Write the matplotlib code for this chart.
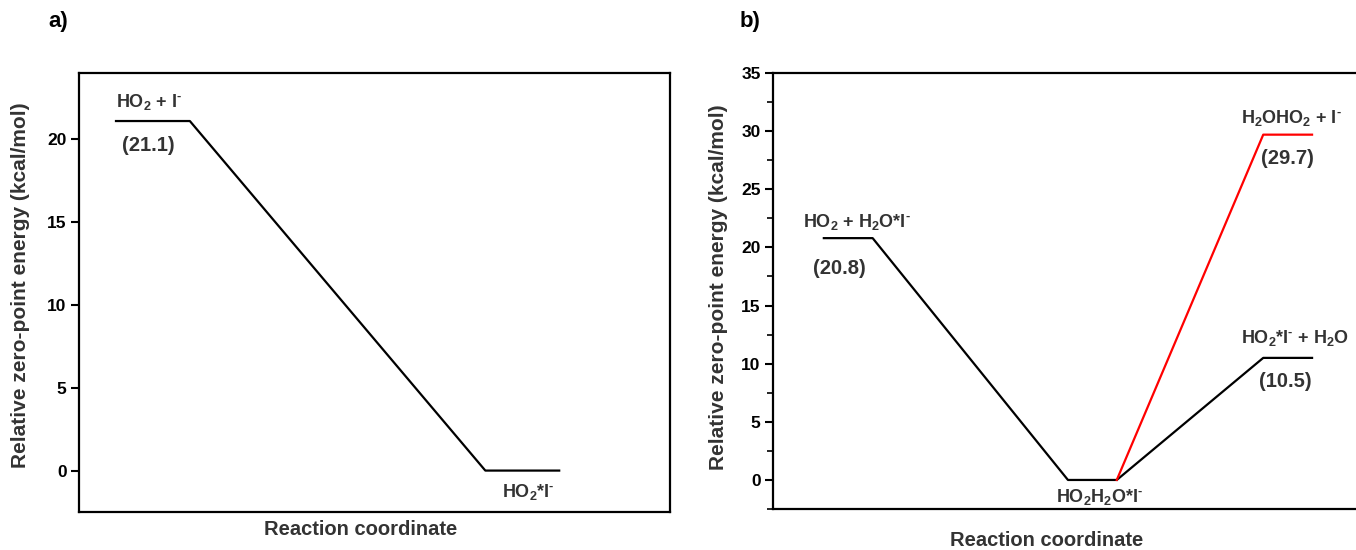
import matplotlib
matplotlib.use("Agg")
import matplotlib.pyplot as plt
from matplotlib.ticker import MultipleLocator

plt.rcParams['font.family'] = ['Liberation Sans', 'DejaVu Sans']
plt.rcParams['font.weight'] = 'bold'
plt.rcParams['axes.labelweight'] = 'bold'
plt.rcParams['mathtext.fontset'] = 'custom'
plt.rcParams['mathtext.rm'] = 'Liberation Sans:bold'
plt.rcParams['mathtext.bf'] = 'Liberation Sans:bold'
plt.rcParams['mathtext.default'] = 'bf'

M = r'$^{\text{-}}$'  # small raised dash for the anion charge

# panel a data
a_pos = [0, 5]
a_energy = [21.1, 0.0]
a_names = ['HO$_2$ + I' + M, 'HO$_2$*I' + M]

# panel b data
b_pos = [0, 5, 9]
b_energy = [20.8, 0.0, 10.5]
b_names = ['HO$_2$ + H$_2$O*I' + M, 'HO$_2$H$_2$O*I' + M, 'HO$_2$*I' + M + ' + H$_2$O']
b_red_pos = [5, 9]
b_red_energy = [0.0, 29.7]
b_red_name = 'H$_2$OHO$_2$ + I' + M

TXT = '#333333'
NAME_FS = 13
VAL_FS = 14.5


def path(pos, energy):
    xs, ys = [], []
    for p, e in zip(pos, energy):
        xs += [p, p + 1]
        ys += [e, e]
    return xs, ys


def style(ax, minor, xl, yl):
    for s in ax.spines.values():
        s.set_linewidth(1.6)
    ax.set_xticks([])
    ax.tick_params(axis='y', direction='out', length=6, width=1.5, pad=3,
                   labelsize=12.5)
    if minor:
        ax.yaxis.set_minor_locator(MultipleLocator(2.5))
        ax.tick_params(axis='y', which='minor', length=4, width=1.2)
    ax.set_xlabel('Reaction coordinate', fontsize=14.5, color=TXT)
    ax.set_ylabel('Relative zero-point energy (kcal/mol)', fontsize=15, color=TXT)
    ax.xaxis.set_label_coords(*xl)
    ax.yaxis.set_label_coords(*yl)
    ax.xaxis.label.set_va('center')
    ax.yaxis.label.set_va('center')


def label(ax, x, y, s, fs):
    ax.text(x, y, s, fontsize=fs, color=TXT, va='baseline')


fig = plt.figure(figsize=(13.56, 5.5), dpi=100)

# ---- a)
ax1 = fig.add_axes([0.0583, 0.0691, 0.4358, 0.7982])
xs, ys = path(a_pos, a_energy)
ax1.plot(xs, ys, color='black', lw=1.6)
ax1.set_xlim(-0.5, 7.5)
ax1.set_ylim(-2.5, 24)
ax1.set_yticks([0, 5, 10, 15, 20])
style(ax1, False, (0.476, -0.041), (-0.0998, 0.517))
label(ax1, 0.0, 21.93, a_names[0], NAME_FS)
label(ax1, 0.08, 19.27, '(%.1f)' % a_energy[0], VAL_FS)
label(ax1, 5.23, -1.57, a_names[1], NAME_FS)
fig.text(48 / 1356, 1 - 22 / 550, 'a)', fontsize=16, va='center')

# ---- b)
ax2 = fig.add_axes([0.5701, 0.0745, 0.4335, 0.7927])
xs, ys = path(b_pos, b_energy)
ax2.plot(xs, ys, color='black', lw=1.6)
xs, ys = path(b_red_pos, b_red_energy)
ax2.plot(xs[1:], ys[1:], color='#ff0000', lw=1.6)
ax2.set_xlim(-1.04, 11)
ax2.set_ylim(-2.5, 35)
ax2.set_yticks([0, 5, 10, 15, 20, 25, 30, 35])
style(ax2, True, (0.466, -0.073), (-0.0935, 0.509))
label(ax2, -0.43, 21.75, b_names[0], NAME_FS)
label(ax2, -0.22, 17.71, '(%.1f)' % b_energy[0], VAL_FS)
label(ax2, 4.76, -1.89, b_names[1], NAME_FS)
label(ax2, 8.55, 30.7, b_red_name, NAME_FS)
label(ax2, 8.96, 27.17, '(%.1f)' % b_red_energy[1], VAL_FS)
label(ax2, 8.55, 11.78, b_names[2], NAME_FS)
label(ax2, 8.92, 8.0, '(%.1f)' % b_energy[2], VAL_FS)
fig.text(740 / 1356, 1 - 22 / 550, 'b)', fontsize=16, va='center')

fig.savefig('out.png', dpi=100)
